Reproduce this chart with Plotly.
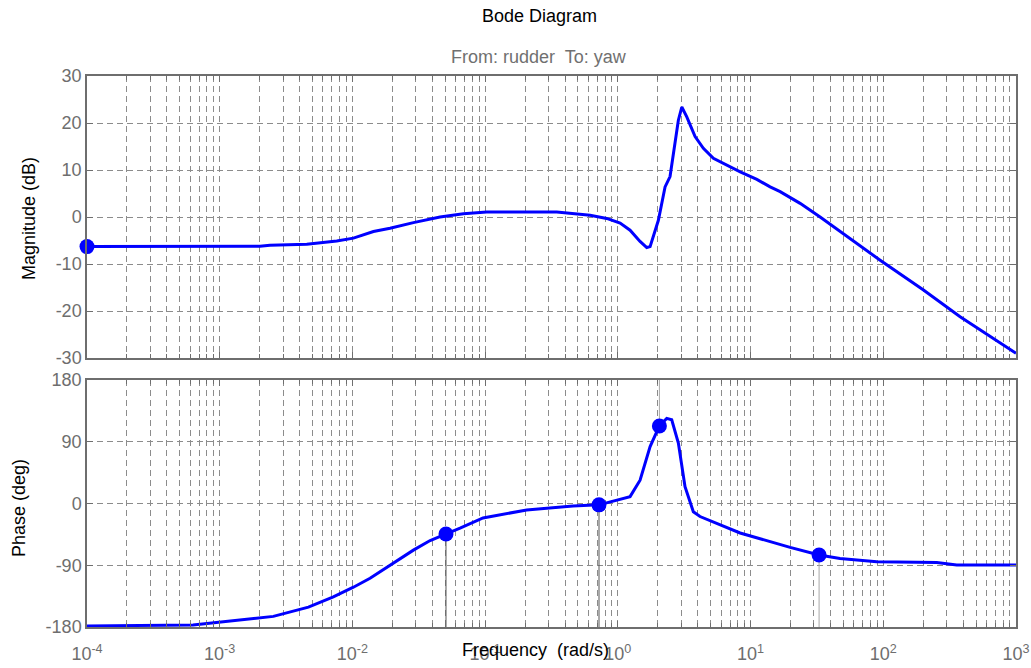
import plotly.graph_objects as go

# ---------------- data ----------------
mag_freq = [1e-4, 0.00201, 0.00239, 0.00453, 0.00762, 0.01017, 0.0144, 0.0192, 0.0288,
            0.0457, 0.0685, 0.1028, 0.3465, 0.519, 0.618, 0.824, 1.040, 1.236, 1.470,
            1.651, 1.750, 2.020, 2.268, 2.473, 2.857, 3.032, 3.306, 3.818, 4.409, 5.245,
            7.014, 8.350, 11.15, 14.04, 16.70, 23.62, 33.42, 94.7, 199.6, 379.2, 1000]
mag_db = [-6.3, -6.2, -6.0, -5.8, -5.1, -4.5, -3.1, -2.4, -1.2,
          0.0, 0.7, 1.05, 1.05, 0.6, 0.35, -0.3, -1.3, -2.8, -5.2,
          -6.5, -6.3, -0.7, 6.4, 8.6, 20.6, 23.4, 21.3, 17.1, 14.6, 12.5,
          10.7, 9.6, 8.0, 6.4, 5.4, 2.9, 0.0, -9.2, -15.5, -21.2, -29.0]

phase_freq = [1e-4, 6.29e-4, 2.536e-3, 3.39e-3, 4.66e-3, 7.18e-3, 0.01017, 0.01358, 0.0192,
              0.0288, 0.0385, 0.0507, 0.0647, 0.0964, 0.2056, 0.459, 0.721, 1.236, 1.470,
              1.750, 2.056, 2.335, 2.546, 2.857, 3.207, 3.704, 4.159, 8.34, 19.86, 32.83,
              47.2, 89.3, 150.3, 252.9, 357.7, 1000]
phase_deg = [-178.5, -177, -164.5, -158, -151, -136, -122, -109, -90,
             -68, -54, -45, -36, -21, -9.5, -3.6, -2, 10, 34,
             83, 113, 124, 122, 88, 24.5, -12, -19, -43, -64, -75,
             -80, -85, -86, -86, -89.6, -89.6]

mag_marker_freq = [1e-4]
mag_marker_db = [-6.3]

pm_freq = [0.0507, 0.721, 2.056, 32.83]
pm_deg = [-44.5, -2, 113, -75]
pm_stem_end = [-180, -180, 180, -180]

decades = [-4, -3, -2, -1, 0, 1, 2, 3]
x_tick_text = ["10<sup>-4</sup>", "10<sup>-3</sup>", "10<sup>-2</sup>", "10<sup>-1</sup>",
               "10<sup>0</sup>", "10<sup>1</sup>", "10<sup>2</sup>", "10<sup>3</sup>"]
mag_ticks = [-30, -20, -10, 0, 10, 20, 30]
phase_ticks = [-180, -90, 0, 90, 180]

# ---------------- figure ----------------
BLUE = "#0000FF"
GRID = "#8c8c8c"
FRAME = "#6e6e6e"
TICKC = "#6e6e6e"
FONT = "Arial, Liberation Sans, sans-serif"

major_vals = [10 ** d for d in decades]
minor_vals = [k * 10 ** d for d in decades[:-1] for k in range(2, 10)]

fig = go.Figure()

stem_colors = ["#555555", "#555555", "#a8a8a8", "#a8a8a8"]
for f, d, e, c in zip(pm_freq, pm_deg, pm_stem_end, stem_colors):
    fig.add_trace(go.Scatter(x=[f, f], y=[d, e], mode="lines", xaxis="x2", yaxis="y2",
                             line=dict(color=c, width=1), hoverinfo="skip", showlegend=False))

fig.add_trace(go.Scatter(x=mag_freq, y=mag_db, mode="lines", xaxis="x", yaxis="y",
                         line=dict(color=BLUE, width=3), showlegend=False))
fig.add_trace(go.Scatter(x=phase_freq, y=phase_deg, mode="lines", xaxis="x2", yaxis="y2",
                         line=dict(color=BLUE, width=3), showlegend=False))
fig.add_trace(go.Scatter(x=mag_marker_freq, y=mag_marker_db, mode="markers", xaxis="x", yaxis="y",
                         marker=dict(color=BLUE, size=15), cliponaxis=False, showlegend=False))
fig.add_trace(go.Scatter(x=pm_freq, y=pm_deg, mode="markers", xaxis="x2", yaxis="y2",
                         marker=dict(color=BLUE, size=15), cliponaxis=False, showlegend=False))

xcommon = dict(type="log", range=[-4, 3], tickmode="array", tickvals=major_vals,
               ticktext=x_tick_text, showgrid=True, gridcolor=GRID, griddash="6px,4px",
               gridwidth=1, showline=True, linecolor=FRAME, linewidth=1.5, mirror="ticks",
               ticks="inside", ticklen=6, tickcolor=FRAME, zeroline=False, automargin=False,
               tickfont=dict(family=FONT, size=18, color=TICKC),
               minor=dict(tickmode="array", tickvals=minor_vals, ticks="inside", ticklen=4,
                          tickcolor=FRAME, showgrid=True, gridcolor=GRID,
                          griddash="6px,4px", gridwidth=1))

ycommon = dict(showgrid=True, gridcolor=GRID, griddash="6px,4px", gridwidth=1,
               showline=True, linecolor=FRAME, linewidth=1.5, mirror="ticks",
               ticks="inside", ticklen=6, tickcolor=FRAME, zeroline=False, automargin=False,
               tickfont=dict(family=FONT, size=18, color=TICKC), tickmode="array")

ann = dict(xref="paper", yref="paper", showarrow=False, xanchor="center", yanchor="middle")

fig.update_layout(
    width=1031, height=668,
    margin=dict(l=87, r=15, t=76, b=41, autoexpand=False),
    plot_bgcolor="white", paper_bgcolor="white",
    font=dict(family=FONT, size=18, color="black"),
    xaxis=dict(xcommon, anchor="y", domain=[0, 1], showticklabels=False, matches="x2"),
    xaxis2=dict(xcommon, anchor="y2", domain=[0, 1], ticklabelstandoff=10),
    yaxis=dict(ycommon, anchor="x", domain=[0.4882, 1], range=[-30, 30],
               tickvals=mag_ticks, ticktext=[str(v) for v in mag_ticks]),
    yaxis2=dict(ycommon, anchor="x2", domain=[0, 0.4483], range=[-180, 180],
                tickvals=phase_ticks, ticktext=[str(v) for v in phase_ticks]),
    showlegend=False,
    annotations=[
        dict(ann, text="Bode Diagram", x=0.4876, y=1.109,
             font=dict(family=FONT, size=18, color="black")),
        dict(ann, text="From: rudder\u00a0 To: yaw", x=0.4865, y=1.0345,
             font=dict(family=FONT, size=18, color="#707070")),
        dict(ann, text="Magnitude (dB)", x=-0.0624, y=0.7405, textangle=-90,
             font=dict(family=FONT, size=18, color="black")),
        dict(ann, text="Phase (deg)", x=-0.0732, y=0.216, textangle=-90,
             font=dict(family=FONT, size=18, color="black")),
        dict(ann, text="Frequency\u00a0 (rad/s)", x=0.4828, y=-0.0417,
             font=dict(family=FONT, size=18, color="black")),
    ],
)

fig.write_html("out.html")
